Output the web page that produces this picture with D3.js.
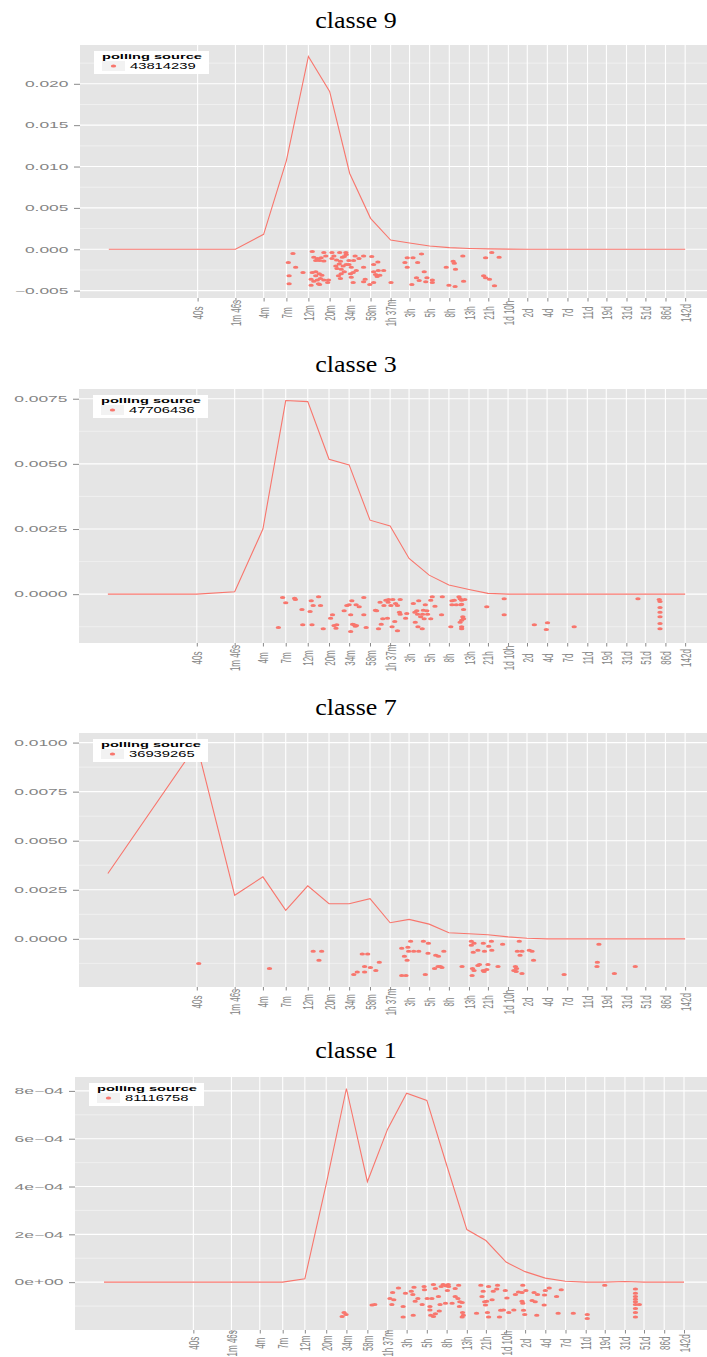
<!DOCTYPE html>
<html>
<head>
<meta charset="utf-8">
<script src="https://cdn.jsdelivr.net/npm/d3@7"></script>
<style>
  body { margin: 0; background: #fff; }
  svg { display: block; }
</style>
</head>
<body>
<script>
// x is log(seconds) -- the axis is a log time axis, ticks labelled in readable durations
const tickLabels = ["40s", "1m 46s", "4m", "7m", "12m", "20m", "34m", "58m", "1h 37m", "3h", "5h", "8h",
  "13h", "21h", "1d 10h", "2d", "4d", "7d", "11d", "19d", "31d", "51d", "86d", "142d"];
const tickLogSec = [3.69, 4.67, 5.40, 5.99, 6.56, 7.11, 7.63, 8.17, 8.69, 9.18, 9.70, 10.21,
  10.73, 11.22, 11.74, 12.23, 12.75, 13.27, 13.79, 14.28, 14.80, 15.29, 15.81, 16.32];
// density curve is evaluated at 4s and then at every tick
const curveLogSec = [1.39, ...tickLogSec];

const titles = ["classe 9", "classe 3", "classe 7", "classe 1"];
const sources = ["43814239", "47706436", "36939265", "81116758"];

const density9 = [0, 0, 0, 0.00181, 0.01072, 0.02330, 0.01908, 0.00916, 0.00374, 0.00112, 0.00076, 0.00040,
  0.00020, 0.00010, 0.00005, 0.00002, 0, 0, 0, 0, 0, 0, 0, 0, 0];
const density3 = [0, 0, 0.00009, 0.00250, 0.00743, 0.00739, 0.00518, 0.00496, 0.00284, 0.00262, 0.00137, 0.00073,
  0.00035, 0.00018, 0.00003, 0, 0, 0, 0, 0, 0, 0, 0, 0, 0];
const density7 = [0.00333, 0.0099, 0.00222, 0.00316, 0.00145, 0.00270, 0.00179, 0.00179, 0.00205, 0.00082, 0.00099, 0.00075,
  0.00031, 0.00026, 0.00021, 0.00010, 0.00003, 0, 0, 0, 0, 0, 0, 0, 0];
const density1 = [0, 0, 0, 0, 0, 0.000014, 0.00041, 0.00081, 0.00042, 0.00064, 0.00079, 0.00076,
  0.00049, 0.00022, 0.000174, 0.000084, 0.000044, 0.000017, 0.000004, 0, 0, 0.000003, 0, 0, 0];

// jittered observations drawn under the zero line: [log seconds, y]
const points9 = [
  [6.16,-0.00052],[6.66,-0.00028],[6.96,-0.00040],[7.17,-0.00040],[7.37,-0.00040],[7.53,-0.00040],[7.54,-0.00064],[7.22,-0.00080],[7.01,-0.00080],[6.70,-0.00096],
  [6.79,-0.00112],[6.89,-0.00104],[6.85,-0.00137],[6.75,-0.00137],[6.96,-0.00141],[7.17,-0.00112],[7.29,-0.00129],[7.44,-0.00096],[7.49,-0.00088],[7.39,-0.00145],
  [7.61,-0.00137],[7.77,-0.00080],[7.99,-0.00080],[8.20,-0.00088],[8.36,-0.00153],[7.73,-0.00137],[7.87,-0.00112],[6.04,-0.00161],[6.23,-0.00217],[6.42,-0.00281],
  [6.06,-0.00321],[6.06,-0.00418],[6.66,-0.00281],[6.75,-0.00273],[6.84,-0.00297],[6.91,-0.00313],[6.75,-0.00321],[6.63,-0.00362],[6.70,-0.00386],[6.79,-0.00370],
  [6.87,-0.00353],[6.96,-0.00370],[7.08,-0.00370],[7.06,-0.00402],[6.82,-0.00418],[6.63,-0.00434],[6.85,-0.00426],[7.27,-0.00201],[7.30,-0.00233],[7.36,-0.00177],
  [7.41,-0.00241],[7.46,-0.00201],[7.54,-0.00185],[7.61,-0.00185],[7.67,-0.00217],[7.49,-0.00273],[7.41,-0.00297],[7.34,-0.00321],[7.39,-0.00353],[7.65,-0.00297],
  [7.72,-0.00281],[7.80,-0.00257],[7.67,-0.00337],[7.72,-0.00402],[7.99,-0.00217],[8.03,-0.00362],[7.99,-0.00394],[8.15,-0.00426],[8.25,-0.00273],[8.30,-0.00305],
  [8.37,-0.00257],[8.51,-0.00257],[8.34,-0.00329],[8.41,-0.00313],[8.25,-0.00402],[8.25,-0.00185],[8.70,-0.00402],[9.06,-0.00161],[9.12,-0.00104],[9.27,-0.00104],
  [9.12,-0.00217],[9.39,-0.00161],[9.49,-0.00056],[9.56,-0.00273],[9.36,-0.00345],[9.43,-0.00378],[9.63,-0.00345],[9.60,-0.00394],[9.77,-0.00370],[9.77,-0.00402],
  [9.24,-0.00426],[10.13,-0.00217],[10.31,-0.00145],[10.34,-0.00169],[10.37,-0.00241],[10.56,-0.00080],[10.58,-0.00386],[10.20,-0.00434],[10.36,-0.00450],[11.10,-0.00321],
  [11.15,-0.00345],[11.25,-0.00362],[11.15,-0.00104],[11.31,-0.00040],[11.50,-0.00096],[11.38,-0.00442]
];
const points3 = [
  [5.91,-0.000128],[5.99,-0.000332],[6.22,-0.000153],[6.24,-0.000204],[5.80,-0.001278],[6.41,-0.000588],[6.43,-0.001176],[6.62,-0.000665],[6.65,-0.000256],[6.67,-0.001176],
  [6.70,-0.000434],[6.84,-0.000102],[6.89,-0.000434],[6.96,-0.001329],[7.15,-0.00092],[7.20,-0.000792],[7.24,-0.001201],[7.29,-0.001304],[7.31,-0.001176],[7.50,-0.000639],
  [7.57,-0.000434],[7.63,-0.000409],[7.67,-0.000792],[7.70,-0.000256],[7.72,-0.00115],[7.76,-0.001176],[7.79,-0.001227],[7.82,-0.001201],[7.67,-0.001431],[7.81,-0.000409],
  [7.89,-0.000486],[8.01,-0.000128],[8.01,-0.000792],[8.07,-0.001278],[8.31,-0.000613],[8.34,-0.000639],[8.39,-0.001329],[8.43,-0.000307],[8.46,-0.00115],[8.50,-0.000946],
  [8.53,-0.000434],[8.58,-0.00023],[8.62,-0.00092],[8.65,-0.000204],[8.64,-0.000307],[8.71,-0.000434],[8.74,-0.001252],[8.76,-0.000204],[8.83,-0.000358],[8.88,-0.000434],
  [8.95,-0.000204],[8.81,-0.001048],[8.88,-0.001406],[8.93,-0.00069],[8.95,-0.000767],[9.09,-0.00092],[9.12,-0.000741],[9.29,-0.000358],[9.33,-0.00069],[9.34,-0.001074],
  [9.38,-0.000639],[9.40,-0.000767],[9.41,-0.001252],[9.43,-0.000256],[9.48,-0.000869],[9.52,-0.001329],[9.53,-0.000767],[9.55,-0.000613],[9.57,-0.000946],[9.60,-0.000409],
  [9.64,-0.000639],[9.66,-0.000767],[9.74,-0.00023],[9.78,-0.000102],[9.74,-0.000946],[9.85,-0.00046],[10.02,-0.000792],[10.04,-0.000102],[10.26,-0.001252],[10.29,-0.000256],
  [10.29,-0.000409],[10.35,-0.00023],[10.40,-0.000409],[10.47,-0.000102],[10.50,-0.000179],[10.54,-0.00023],[10.52,-0.000409],[10.54,-0.000383],[10.59,-0.000588],[10.57,-0.000869],
  [10.54,-0.000997],[10.50,-0.001074],[10.54,-0.001252],[10.54,-0.001329],[10.62,-0.000204],[10.59,-0.000946],[11.19,-0.000486],[11.64,-0.000179],[11.64,-0.000792],[12.42,-0.001176],
  [12.73,-0.001355],[12.76,-0.001099],[13.45,-0.001252],[15.10,-0.000179],[15.65,-0.000204],[15.67,-0.000281],[15.67,-0.000511],[15.67,-0.00069],[15.67,-0.000869],[15.67,-0.001125],
  [15.67,-0.001329]
];
const points7 = [
  [3.74,-0.00125],[5.57,-0.001506],[6.70,-0.000634],[6.92,-0.000634],[6.85,-0.001096],[7.97,-0.000771],[8.11,-0.000771],[8.03,-0.001403],[8.18,-0.001455],[8.41,-0.001198],
  [7.84,-0.001694],[8.03,-0.001694],[7.75,-0.001814],[8.32,-0.001609],[8.99,-0.00048],[9.15,-0.000429],[9.22,-0.000121],[9.06,-0.000891],[9.13,-0.001096],[8.99,-0.001865],
  [9.10,-0.001865],[9.17,-0.000634],[9.30,-0.000634],[9.43,-0.000634],[9.55,-0.000121],[9.68,-0.000224],[9.67,-0.000737],[9.60,-0.001814],[9.87,-0.000839],[9.94,-0.000891],
  [10.08,-0.000634],[9.84,-0.001506],[9.93,-0.001403],[9.99,-0.001403],[10.03,-0.001455],[10.55,-0.001403],[10.79,-0.000121],[10.86,-0.000224],[10.79,-0.000327],[10.84,-0.000686],
  [10.96,-0.000583],[11.10,-0.000224],[11.13,-0.000634],[11.31,-0.000121],[11.24,-0.000378],[11.32,-0.000583],[11.60,-0.000275],[10.82,-0.001506],[10.86,-0.001609],[10.96,-0.001352],
  [11.00,-0.001301],[11.10,-0.001609],[11.19,-0.001557],[11.12,-0.00166],[11.22,-0.001301],[11.48,-0.001403],[10.81,-0.001865],[12.03,-0.000121],[11.98,-0.000634],[12.10,-0.000634],
  [12.05,-0.000839],[12.29,-0.000583],[12.36,-0.000634],[12.40,-0.001096],[11.93,-0.001403],[11.96,-0.001506],[11.89,-0.001609],[11.95,-0.00166],[12.10,-0.001762],[13.19,-0.001814],
  [14.09,-0.000275],[14.05,-0.001198],[14.04,-0.001403],[14.49,-0.001762],[15.03,-0.001405]
];
const points1 = [
  [7.52,-0.000144],[7.57,-0.000127],[7.62,-0.000135],[8.29,-0.000096],[8.36,-0.000093],[8.75,-0.000068],[8.85,-0.000074],[8.80,-0.000093],[8.82,-0.000043],[8.97,-0.000024],
  [9.09,-0.000102],[9.09,-0.000146],[9.15,-0.000046],[9.30,-0.000038],[9.34,-0.000052],[9.37,-0.000021],[9.40,-0.00008],[9.47,-0.000068],[9.35,-0.000138],[9.58,-0.000093],
  [9.63,-0.000018],[9.64,-0.000032],[9.71,-0.000068],[9.78,-0.000102],[9.78,-0.000116],[9.83,-0.000068],[9.80,-0.000138],[9.87,-0.00001],[9.92,-0.000027],[9.87,-0.000144],
  [9.92,-0.000132],[10.00,-0.00006],[10.02,-0.000121],[10.04,-0.000093],[10.07,-0.000018],[10.12,-0.00001],[10.18,-0.000088],[10.19,-0.000015],[10.25,-0.00001],[10.23,-0.000035],
  [10.26,-0.000018],[10.35,-0.000088],[10.43,-0.00006],[10.43,-0.000027],[10.50,-0.000068],[10.52,-0.000013],[10.54,-0.000102],[10.55,-0.000082],[10.61,-0.000085],[10.62,-0.000127],
  [10.61,-0.000146],[10.64,-0.000138],[10.98,-0.00013],[11.09,-0.000013],[11.12,-0.00006],[11.15,-0.000038],[11.19,-0.000082],[11.21,-0.000096],[11.24,-0.00008],[11.29,-0.000018],
  [11.26,-0.000127],[11.29,-0.000146],[11.38,-0.000074],[11.41,-0.000038],[11.52,-0.000013],[11.50,-0.000029],[11.57,-0.000146],[11.60,-0.000118],[11.67,-0.000116],[11.76,-0.000066],
  [11.72,-0.000035],[11.81,-0.000127],[11.94,-0.000116],[11.98,-0.000052],[12.06,-0.000041],[12.15,-0.000043],[12.17,-0.000013],[12.15,-0.00008],[12.17,-0.000088],[12.19,-0.000118],
  [12.25,-0.000035],[12.22,-0.000135],[12.41,-0.000077],[12.46,-0.000043],[12.55,-0.000052],[12.49,-0.000082],[12.53,-0.000138],[12.72,-0.000096],[12.73,-0.000054],[12.75,-0.000035],
  [12.85,-0.000024],[13.04,-0.00006],[13.08,-0.00013],[13.16,-0.000032],[13.47,-0.00013],[13.83,-0.000135],[13.83,-0.000152],[14.28,-0.000013],[15.07,-0.000029],[15.07,-0.000046],
  [15.07,-0.00006],[15.07,-0.000071],[15.07,-0.000082],[15.07,-0.000093],[15.17,-0.000093],[15.07,-0.00011],[15.07,-0.000127],[15.07,-0.000146]
];

const yTicks9 = [-0.005, 0, 0.005, 0.010, 0.015, 0.020];
const yLabels9 = ["\u22120.005", "0.000", "0.005", "0.010", "0.015", "0.020"];
const yTicks3 = [0, 0.0025, 0.005, 0.0075];
const yLabels3 = ["0.0000", "0.0025", "0.0050", "0.0075"];
const yTicks7 = [0, 0.0025, 0.005, 0.0075, 0.01];
const yLabels7 = ["0.0000", "0.0025", "0.0050", "0.0075", "0.0100"];
const yTicks1 = [0, 0.0002, 0.0004, 0.0006, 0.0008];
const yLabels1 = ["0e+00", "2e\u221204", "4e\u221204", "6e\u221204", "8e\u221204"];

const classes = [
  {title: titles[0], source: sources[0], density: density9, points: points9, yTicks: yTicks9, yLabels: yLabels9},
  {title: titles[1], source: sources[1], density: density3, points: points3, yTicks: yTicks3, yLabels: yLabels3},
  {title: titles[2], source: sources[2], density: density7, points: points7, yTicks: yTicks7, yLabels: yLabels7},
  {title: titles[3], source: sources[3], density: density1, points: points1, yTicks: yTicks1, yLabels: yLabels1}
];

// where each panel sits on the page
const layout = [
  {top: 45, bottom: 298, left: 80, width: 634, titleY: 27.5, labelGap: 15},
  {top: 389, bottom: 643, left: 79, width: 635, titleY: 372, labelGap: 15},
  {top: 733, bottom: 987, left: 79, width: 635, titleY: 715, labelGap: 15},
  {top: 1077, bottom: 1330, left: 75, width: 638, titleY: 1058, labelGap: 13.3}
];

const W = 707, H = 1357;
const red = "#F8766D";
const sans = "'Liberation Sans', Arial, Helvetica, sans-serif";
const stretch = 1.8;   // the original figure is squeezed into a wide box, text looks stretched

const svg = d3.select("body").append("svg")
  .attr("width", W)
  .attr("height", H);

const xExt = d3.extent(curveLogSec);
const xPad = (xExt[1] - xExt[0]) * 0.05;

classes.forEach((c, i) => {
  const L = layout[i];
  const g = svg.append("g");

  const x = d3.scaleLinear()
    .domain([xExt[0] - xPad, xExt[1] + xPad])
    .range([L.left, L.left + L.width]);

  const yExt = d3.extent(c.density.concat(c.points.map(p => p[1])));
  const yPad = (yExt[1] - yExt[0]) * 0.05;
  const y = d3.scaleLinear()
    .domain([yExt[0] - yPad, yExt[1] + yPad])
    .range([L.bottom, L.top]);

  // title
  g.append("text")
    .attr("transform", `translate(356,${L.titleY}) scale(1.13,1)`)
    .attr("text-anchor", "middle")
    .style("font-family", "'Liberation Serif', 'Times New Roman', serif")
    .style("font-size", "23px")
    .attr("fill", "#000")
    .text(c.title);

  // panel background
  g.append("rect")
    .attr("x", L.left).attr("y", L.top)
    .attr("width", W - L.left).attr("height", L.bottom - L.top)
    .attr("fill", "#E5E5E5");

  // minor horizontal grid
  const step = c.yTicks[1] - c.yTicks[0];
  const minor = d3.range(-1, c.yTicks.length)
    .map(k => c.yTicks[0] + step * (k + 0.5))
    .filter(v => v > y.domain()[0] && v < y.domain()[1]);
  g.selectAll(".minor").data(minor).join("line")
    .attr("x1", L.left).attr("x2", W)
    .attr("y1", d => y(d)).attr("y2", d => y(d))
    .attr("stroke", "#F2F2F2").attr("stroke-width", 0.8);

  // major grid
  g.selectAll(".hmajor").data(c.yTicks).join("line")
    .attr("x1", L.left).attr("x2", W)
    .attr("y1", d => y(d)).attr("y2", d => y(d))
    .attr("stroke", "#fff").attr("stroke-width", 1.1);
  g.selectAll(".vmajor").data(tickLogSec).join("line")
    .attr("x1", d => x(d)).attr("x2", d => x(d))
    .attr("y1", L.top).attr("y2", L.bottom)
    .attr("stroke", "#fff").attr("stroke-width", 1.1);

  // density curve
  const line = d3.line()
    .x(d => x(d[0]))
    .y(d => y(d[1]));
  g.append("path")
    .datum(d3.zip(curveLogSec, c.density))
    .attr("d", line)
    .attr("fill", "none")
    .attr("stroke", red)
    .attr("stroke-width", 1.1);

  // observations
  g.selectAll(".pt").data(c.points).join("ellipse")
    .attr("cx", d => x(d[0]))
    .attr("cy", d => y(d[1]))
    .attr("rx", 2.7).attr("ry", 1.5)
    .attr("fill", red);

  // x axis
  const xAxis = g.append("g")
    .attr("transform", `translate(0,${L.bottom})`)
    .call(d3.axisBottom(x).tickValues(tickLogSec).tickFormat((d, k) => tickLabels[k]).tickSize(3.5));
  xAxis.select(".domain").remove();
  xAxis.selectAll(".tick line").attr("stroke", "#8a8a8a");
  xAxis.selectAll(".tick text")
    .attr("y", 0)
    .attr("dy", "0.35em")
    .attr("transform", `translate(0,${L.labelGap}) scale(${stretch},1) rotate(-90)`)
    .attr("text-anchor", "middle")
    .style("font-family", sans)
    .style("font-size", "8px")
    .attr("fill", "#858585");

  // y axis
  const yAxis = g.append("g")
    .attr("transform", `translate(${L.left},0)`)
    .call(d3.axisLeft(y).tickValues(c.yTicks).tickFormat((d, k) => c.yLabels[k]).tickSize(6));
  yAxis.select(".domain").remove();
  yAxis.selectAll(".tick line").attr("stroke", "#8a8a8a");
  yAxis.selectAll(".tick text")
    .attr("x", 0)
    .attr("transform", "translate(-11.5,0) scale(1.98,1)")
    .style("font-family", sans)
    .style("font-size", "8.8px")
    .attr("fill", "#858585");

  // legend
  const lx = L.left + 14, ly = L.top + 6;
  const leg = g.append("g").attr("transform", `translate(${lx},${ly})`);
  leg.append("rect")
    .attr("width", 115).attr("height", 23)
    .attr("fill", "#fff");
  leg.append("text")
    .attr("transform", `translate(8,8.3) scale(1.83,1)`)
    .style("font-family", sans)
    .style("font-size", "8px")
    .style("font-weight", "bold")
    .attr("fill", "#000")
    .text("polling source");
  leg.append("rect")
    .attr("x", 8).attr("y", 10)
    .attr("width", 23).attr("height", 10)
    .attr("fill", "#F2F2F2");
  leg.append("ellipse")
    .attr("cx", 19.5).attr("cy", 15)
    .attr("rx", 2.7).attr("ry", 1.5)
    .attr("fill", red);
  leg.append("text")
    .attr("transform", `translate(36,17.8) scale(1.78,1)`)
    .style("font-family", sans)
    .style("font-size", "8.3px")
    .attr("fill", "#000")
    .text(c.source);
});
</script>
</body>
</html>
